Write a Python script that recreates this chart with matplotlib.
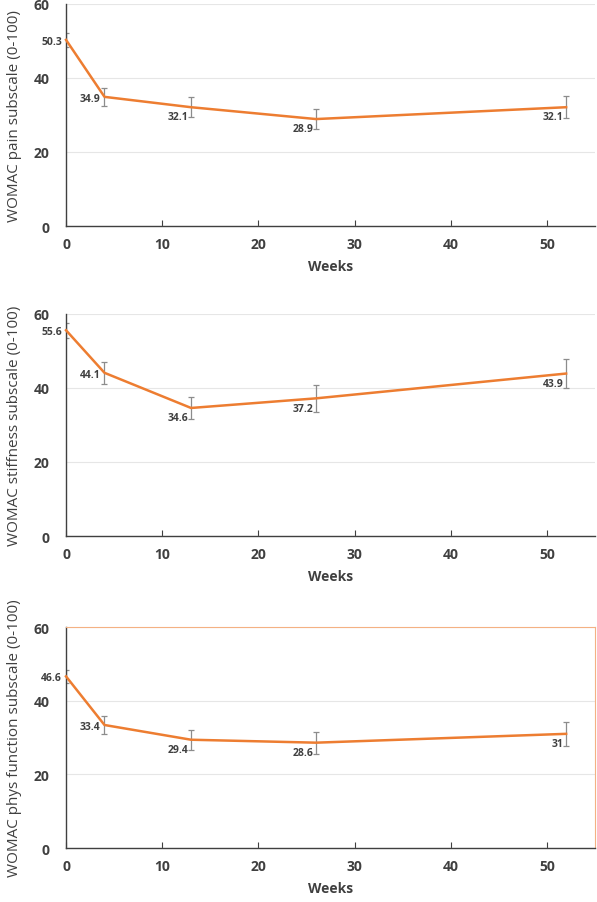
import matplotlib
matplotlib.use("Agg")
import matplotlib.pyplot as plt

plt.rcParams['font.family'] = ['Open Sans', 'DejaVu Sans']

weeks = [0, 4, 13, 26, 52]
pain = [50.3, 34.9, 32.1, 28.9, 32.1]
pain_err = [1.8, 2.4, 2.7, 2.6, 3.0]
stiff = [55.6, 44.1, 34.6, 37.2, 43.9]
stiff_err = [2.0, 3.0, 3.0, 3.6, 4.0]
phys = [46.6, 33.4, 29.4, 28.6, 31]
phys_err = [1.8, 2.4, 2.7, 3.0, 3.3]
ylabels = ["WOMAC pain subscale (0-100)",
           "WOMAC stiffness subscale (0-100)",
           "WOMAC phys function subscale (0-100)"]
xticks = [0, 10, 20, 30, 40, 50]
yticks = [0, 20, 40, 60]

orange = '#ED7D31'
dark = '#404040'

fig = plt.figure(figsize=(5.97, 9.03), dpi=100)
# axes boxes in figure fractions (left, bottom, width, height)
boxes = [(0.1106, 0.7486, 0.886, 0.2459),
         (0.1106, 0.4053, 0.886, 0.2459),
         (0.1106, 0.0598, 0.886, 0.2447)]
series = [(pain, pain_err), (stiff, stiff_err), (phys, phys_err)]

for i in range(3):
    ax = fig.add_axes(boxes[i])
    vals, errs = series[i]
    ax.errorbar(weeks, vals, yerr=errs, fmt='none', ecolor='#8c8c8c',
                elinewidth=0.9, capsize=2.5, capthick=0.9, zorder=2)
    ax.plot(weeks, vals, color=orange, lw=1.8, zorder=3, clip_on=False)
    for j in range(len(weeks)):
        lab = ('%g' % vals[j])
        if j == 0:
            off = (-3, -1)
        elif j == 1:
            off = (-3, -1)
        else:
            off = (-2, -7)
        ax.annotate(lab, (weeks[j], vals[j]), xytext=off, textcoords='offset points',
                    ha='right', va='center', fontsize=7.5, fontweight='bold',
                    color=dark, annotation_clip=False)
    ax.set_xlim(0, 55)
    ax.set_ylim(0, 60)
    ax.set_xticks(xticks)
    ax.set_yticks(yticks)
    ax.yaxis.grid(True, color='#e6e6e6', lw=0.8)
    ax.set_axisbelow(True)
    for s in ['top', 'right']:
        ax.spines[s].set_visible(False)
    ax.spines['left'].set_color(dark)
    ax.spines['bottom'].set_color(dark)
    ax.spines['left'].set_linewidth(1.0)
    ax.spines['bottom'].set_linewidth(1.0)
    ax.tick_params(axis='x', direction='in', length=4, color=dark, labelsize=10,
                   labelcolor=dark, pad=8)
    ax.tick_params(axis='y', length=0, labelsize=10, labelcolor=dark, pad=12)
    for t in ax.get_xticklabels() + ax.get_yticklabels():
        t.set_fontweight('bold')
    ax.set_xlabel("Weeks", fontsize=10, fontweight='bold', color=dark, labelpad=6)
    ax.set_ylabel(ylabels[i], fontsize=11, color=dark, labelpad=8)
    if i == 2:
        ax.spines['top'].set_visible(True)
        ax.spines['right'].set_visible(True)
        ax.spines['top'].set_color('#F4B183')
        ax.spines['right'].set_color('#F4B183')
        ax.spines['top'].set_zorder(5)

fig.savefig("out.png", dpi=100)
